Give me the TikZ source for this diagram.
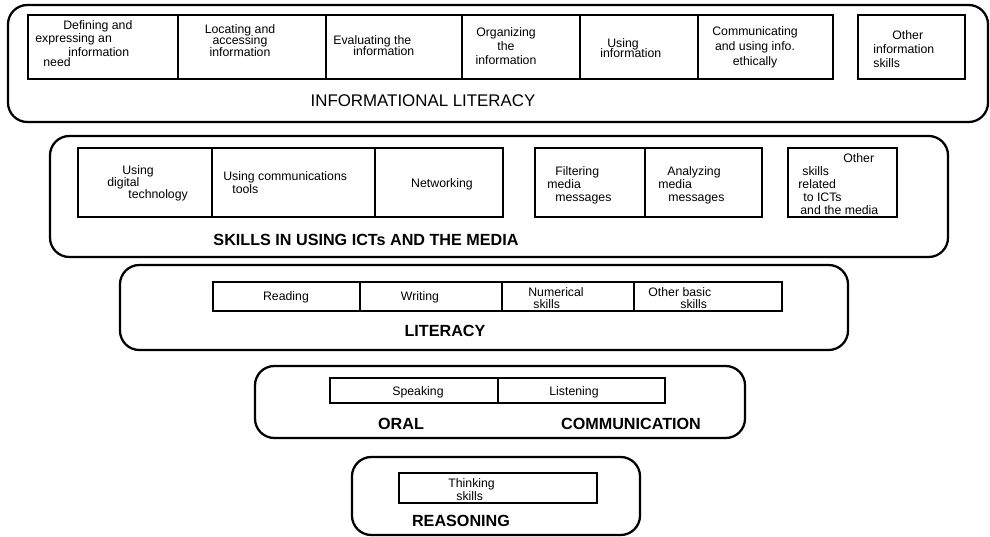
\documentclass[tikz,border=0pt]{standalone}
\usepackage{fontspec}
\setmainfont{Liberation Sans}
\begin{document}
\begin{tikzpicture}[x=0.02cm,y=-0.02cm,
  band/.style={draw,line width=1.3pt,rounded corners=11pt},
  cellbox/.style={draw,line width=0.9pt},
  txt/.style={font=\fontsize{7}{7}\selectfont,align=center,inner sep=0pt},
  lft/.style={txt,align=left,anchor=west},
  head/.style={font=\fontsize{9.2}{10}\selectfont\bfseries,inner sep=0pt}]
  \useasboundingbox (0,0) rectangle (990,537);
  % informational literacy
  \draw[band] (8,5) rectangle (988,122);
  \draw[cellbox] (28,15) rectangle (833,79);
  \foreach \x in {178,326,462,580,698} \draw[cellbox] (\x,15) -- (\x,79);
  \draw[cellbox] (858,15) rectangle (965,79);
  \node[lft,font=\fontsize{7}{5.6}\selectfont] (define) at (35,43.5) {\hspace*{5.6mm}Defining and\\expressing an\\\hspace*{6.6mm}information\\\hspace*{1.6mm}need};
  \node[txt] (locate) at (240,40.5) {Locating and\\[-0.5pt]accessing\\[-0.5pt]information};
  \node[lft] (evaluate) at (333,45.5) {Evaluating the\\[-1pt]\hspace*{4mm}information};
  \node[txt] (organize) at (506,46) {Organizing\\[1pt]the\\[1pt]information};
  \node[lft] (use) at (600,48) {\hspace*{1.4mm}Using\\[-1pt]information};
  \node[txt] (communicate) at (755,47.5) {Communicating\\[1.5pt]and using info.\\[1.5pt]ethically};
  \node[lft] (otherinfo) at (873,49) {\hspace*{3.8mm}Other\\[1pt]information\\[1pt]skills};
  \node[head,font=\fontsize{9.6}{11}\selectfont] (infolit) at (423,101) {INFORMATIONAL LITERACY};
  % ICTs and the media
  \draw[band] (50,136) rectangle (948,257);
  \draw[cellbox] (78,148) rectangle (503,217);
  \foreach \x in {212,375} \draw[cellbox] (\x,148) -- (\x,217);
  \draw[cellbox] (535,148) rectangle (762,217);
  \draw[cellbox] (645,148) -- (645,217);
  \draw[cellbox] (788,148) rectangle (897,217);
  \node[lft] (digital) at (107,183.5) {\hspace*{3mm}Using\\digital\\\hspace*{4.2mm}technology};
  \node[lft] (tools) at (223,182.5) {Using communications\\\hspace*{1.8mm}tools};
  \node[txt] (network) at (442,184) {Networking};
  \node[lft] (filter) at (547,185.5) {\hspace*{1.6mm}Filtering\\[0.5pt]media\\[0.5pt]\hspace*{1.6mm}messages};
  \node[lft] (analyze) at (658,185.5) {\hspace*{1.8mm}Analyzing\\[0.5pt]media\\[0.5pt]\hspace*{2mm}messages};
  \node[lft] (otherict) at (798,184) {\hspace*{9mm}Other\\[0.3pt]\hspace*{0.8mm}skills\\[0.3pt]related\\[0.3pt]
    \hspace*{1mm}to ICTs\\[0.3pt]\hspace*{0.4mm}and the media};
  \node[head] (ictmedia) at (366,240) {SKILLS IN USING ICTs AND THE MEDIA};
  % literacy
  \draw[band] (120,265) rectangle (848,350);
  \draw[cellbox] (213,282) rectangle (782,311);
  \foreach \x in {360,502,634} \draw[cellbox] (\x,282) -- (\x,311);
  \node[txt] (reading) at (286,297) {Reading};
  \node[txt] (writing) at (420,297) {Writing};
  \node[lft] (numerical) at (528,298) {Numerical\\\hspace*{1mm}skills};
  \node[lft] (otherbasic) at (648,298) {Other basic\\\hspace*{6.4mm}skills};
  \node[head] (literacy) at (445,331) {LITERACY};
  % oral communication
  \draw[band] (255,366) rectangle (745,438);
  \draw[cellbox] (330,378) rectangle (665,403);
  \draw[cellbox] (498,378) -- (498,403);
  \node[txt] (speak) at (418,392) {Speaking};
  \node[txt] (listen) at (574,392) {Listening};
  \node[head] (oral) at (401,424) {ORAL};
  \node[head] (communication) at (631,424) {COMMUNICATION};
  % reasoning
  \draw[band] (352,457) rectangle (640,535);
  \draw[cellbox] (399,473) rectangle (597,503);
  \node[lft] (thinking) at (448,489.5) {Thinking\\\hspace*{1.6mm}skills};
  \node[head] (reasoning) at (461,521) {REASONING};
\end{tikzpicture}
\end{document}
